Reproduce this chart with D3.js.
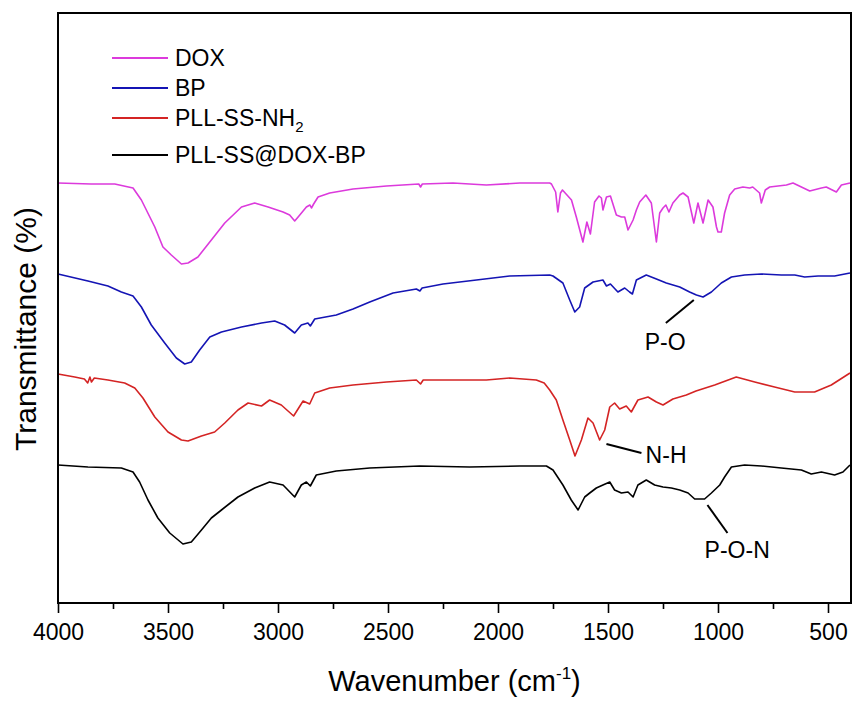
<!DOCTYPE html>
<html>
<head>
<meta charset="utf-8">
<script src="https://cdn.jsdelivr.net/npm/d3@7"></script>
<style>
  body { margin: 0; background: #fff; }
  svg { display: block; font-family: "Liberation Sans", Arial, sans-serif; }
  .tick text { font-size: 23px; fill: #000; }
  .tick line { stroke: #000; stroke-width: 1.6; }
  .label { font-size: 29px; fill: #000; }
  .legend text { font-size: 23px; fill: #000; }
  .note { font-size: 23px; fill: #000; }
</style>
</head>
<body>
<svg width="855" height="702"></svg>
<script>
// **** Data: [wavenumber (cm-1), transmittance (a.u.)] ****

var seriesNames = ['DOX', 'BP', 'PLL-SS-NH2', 'PLL-SS@DOX-BP'];
var seriesColors = ['#dc3adc', '#1414b4', '#d42424', '#000000'];

var doxData = [
  [4000,42.0],[3850,41.9],[3742,41.9],[3659,41.5],[3621,40.3],[3560,37.6],[3523,35.6],[3485,34.8],
  [3439,33.9],[3409,34.0],[3364,34.6],[3303,36.3],[3242,38.0],[3166,39.6],[3106,40.0],[3045,39.6],
  [2977,39.1],[2947,38.8],[2924,38.2],[2901,38.8],[2871,39.6],[2855,39.8],[2848,39.5],[2838,39.9],
  [2818,40.6],[2765,41.0],[2659,41.4],[2507,41.7],[2360,41.9],[2352,41.6],[2344,41.9],[2205,42.0],
  [2053,41.8],[1901,42.0],[1765,42.0],[1757,41.9],[1738,41.1],[1728,39.1],[1716,41.0],[1707,41.3],
  [1666,40.3],[1644,38.6],[1614,36.1],[1596,38.1],[1580,36.9],[1561,40.1],[1541,40.7],[1530,40.5],
  [1523,39.3],[1507,40.6],[1489,40.7],[1462,38.8],[1439,38.6],[1424,38.6],[1409,37.3],[1386,38.3],
  [1371,39.3],[1356,40.1],[1328,40.8],[1303,40.0],[1280,36.1],[1265,39.0],[1250,39.5],[1237,39.8],
  [1223,39.1],[1205,40.0],[1174,40.8],[1159,41.0],[1136,40.6],[1110,38.0],[1091,40.0],
  [1068,38.0],[1045,40.3],[1023,39.6],[1007,37.6],[1000,37.1],[985,37.1],[970,39.0],[947,40.8],
  [924,41.4],[887,41.6],[856,41.5],[842,41.6],[811,41.0],[803,40.0],[785,41.3],[765,41.6],
  [689,41.8],[659,42.0],[621,41.6],[583,41.2],[530,41.5],[508,41.6],[462,41.1],[439,41.8],[400,42.0]
];

var bpData = [
  [4000,32.9],[3864,32.2],[3773,31.7],[3712,31.1],[3659,30.7],[3621,29.6],[3576,27.8],[3515,26.0],
  [3462,24.5],[3424,23.9],[3394,24.1],[3356,25.3],[3310,26.6],[3257,27.1],[3166,27.6],[3075,28.0],
  [3015,28.2],[2970,27.8],[2924,27.0],[2894,27.8],[2864,28.0],[2853,27.7],[2833,28.4],[2735,28.8],
  [2659,29.4],[2583,30.1],[2477,31.0],[2371,31.4],[2355,31.2],[2345,31.5],[2250,31.9],[2098,32.3],
  [1947,32.7],[1765,32.8],[1750,32.7],[1705,32.0],[1674,30.3],[1651,29.1],[1629,29.6],[1606,31.5],
  [1568,32.1],[1523,32.3],[1507,31.7],[1489,31.9],[1455,31.1],[1424,31.5],[1402,31.1],[1389,30.9],
  [1371,32.3],[1326,32.8],[1280,32.4],[1235,32.0],[1174,31.6],[1129,31.1],[1098,30.8],[1068,30.6],
  [1030,31.1],[985,32.0],[939,32.6],[879,32.8],[803,32.9],[712,32.8],[651,32.8],[606,32.6],
  [545,32.7],[470,32.7],[400,33.0]
];

var pllData = [
  [4000,22.9],[3924,22.6],[3880,22.4],[3865,22.0],[3855,22.6],[3848,22.1],[3835,22.5],[3773,22.3],
  [3697,22.0],[3651,21.5],[3614,20.5],[3560,18.6],[3500,17.1],[3439,16.3],[3409,16.2],[3348,16.7],
  [3288,17.1],[3242,18.0],[3182,19.3],[3136,20.0],[3075,19.7],[3038,20.3],[2985,19.8],[2929,18.7],
  [2886,20.2],[2856,19.9],[2833,21.0],[2765,21.5],[2659,21.8],[2507,22.1],[2371,22.3],[2352,21.9],
  [2340,22.3],[2205,22.3],[2053,22.3],[1947,22.5],[1826,22.3],[1790,22.0],[1765,21.3],[1735,20.3],
  [1705,18.3],[1674,16.3],[1650,14.7],[1621,16.3],[1591,18.5],[1568,18.0],[1538,16.3],[1515,17.3],
  [1492,19.6],[1470,20.0],[1447,19.4],[1417,19.7],[1394,19.1],[1364,20.3],[1318,20.6],[1280,20.1],
  [1250,19.8],[1205,20.4],[1144,20.8],[1100,21.2],[1015,21.8],[917,22.6],[833,22.1],[743,21.6],
  [651,21.1],[561,21.1],[485,21.8],[400,23.0]
];

var hybridData = [
  [4000,13.8],[3864,13.6],[3712,13.5],[3659,13.1],[3629,12.1],[3591,10.3],[3546,8.5],[3492,7.0],
  [3432,5.9],[3394,6.1],[3348,7.3],[3303,8.5],[3257,9.3],[3182,10.6],[3106,11.5],[3038,12.1],
  [2977,11.8],[2924,10.6],[2894,11.8],[2871,12.1],[2853,11.7],[2826,12.8],[2735,13.2],[2583,13.5],
  [2356,13.7],[2129,13.6],[1901,13.7],[1780,13.7],[1750,13.3],[1705,11.8],[1667,10.3],[1636,9.3],
  [1606,10.6],[1583,11.0],[1553,11.5],[1523,11.8],[1492,12.1],[1470,11.3],[1439,11.0],[1409,11.1],
  [1386,10.6],[1364,11.8],[1326,12.3],[1288,11.8],[1250,11.6],[1212,11.5],[1174,11.3],[1136,11.0],
  [1106,10.4],[1061,10.4],[1030,11.0],[992,11.8],[970,12.6],[939,13.6],[879,13.8],[803,13.7],
  [712,13.5],[621,13.3],[576,12.9],[530,13.1],[470,12.8],[432,13.1],[400,13.8]
];

var majorTicks = [4000, 3500, 3000, 2500, 2000, 1500, 1000, 500];
var minorTicks = [3750, 3250, 2750, 2250, 1750, 1250, 750];

// peak labels: text, line start [wn, T], line end [wn, T], text anchor point [wn, T]
var peakNotes = [
  { text: 'P-O',   from: [1110, 30.3], to: [1237, 28.0], at: [1240, 25.3], anchor: 'middle' },
  { text: 'N-H',   from: [1507, 15.9], to: [1348, 15.0], at: [1329, 14.0], anchor: 'start' },
  { text: 'P-O-N', from: [1048, 9.8],  to: [957, 7.0],   at: [1061, 4.5],  anchor: 'start' }
];

var allSeries = [doxData, bpData, pllData, hybridData];

// **** Scales ****

var plotLeft = 58, plotRight = 851, plotTop = 13, plotBottom = 603;

var xScale = d3.scaleLinear().domain([4000, 400]).range([plotLeft, 850]);
var yScale = d3.scaleLinear().domain([0, 59]).range([plotBottom, plotTop]);

var svg = d3.select('svg');

// **** Axes ****

var xAxis = svg.append('g').attr('class', 'x axis')
    .attr('transform', 'translate(0,' + plotBottom + ')')
    .call(d3.axisBottom(xScale).tickValues(majorTicks).tickSize(10).tickPadding(11).tickFormat(d3.format('d')));
xAxis.select('.domain').remove();

var xMinor = svg.append('g').attr('class', 'x minor')
    .attr('transform', 'translate(0,' + plotBottom + ')')
    .call(d3.axisBottom(xScale).tickValues(minorTicks).tickSize(6).tickFormat(''));
xMinor.select('.domain').remove();

// **** Spectra ****

var line = d3.line()
    .x(function(d) { return xScale(d[0]); })
    .y(function(d) { return yScale(d[1]); });

svg.append('g').selectAll('path')
    .data(allSeries)
    .enter()
    .append('path')
    .attr('d', line)
    .attr('fill', 'none')
    .attr('stroke', function(d, i) { return seriesColors[i]; })
    .attr('stroke-width', 1.6)
    .attr('stroke-linejoin', 'round');

// frame
svg.append('rect')
    .attr('x', plotLeft).attr('y', plotTop)
    .attr('width', plotRight - plotLeft).attr('height', plotBottom - plotTop)
    .attr('fill', 'none').attr('stroke', '#000').attr('stroke-width', 2);

// **** Peak labels ****

var notes = svg.append('g');
notes.selectAll('line')
    .data(peakNotes)
    .enter()
    .append('line')
    .attr('x1', function(d) { return xScale(d.from[0]); })
    .attr('y1', function(d) { return yScale(d.from[1]); })
    .attr('x2', function(d) { return xScale(d.to[0]); })
    .attr('y2', function(d) { return yScale(d.to[1]); })
    .attr('stroke', '#000').attr('stroke-width', 2);

notes.selectAll('text')
    .data(peakNotes)
    .enter()
    .append('text')
    .attr('class', 'note')
    .attr('x', function(d) { return xScale(d.at[0]); })
    .attr('y', function(d) { return yScale(d.at[1]); })
    .attr('text-anchor', function(d) { return d.anchor; })
    .text(function(d) { return d.text; });

// **** Legend ****

var legendRows = [58, 88, 118, 155];
var legend = svg.append('g').attr('class', 'legend');

seriesNames.forEach(function(name, i) {
    var row = legend.append('g').attr('transform', 'translate(112,' + legendRows[i] + ')');
    row.append('line')
        .attr('x1', 0).attr('x2', 56)
        .attr('stroke', seriesColors[i]).attr('stroke-width', 2);
    var t = row.append('text').attr('x', 63).attr('y', 8);
    if (name === 'PLL-SS-NH2') {
        t.append('tspan').text('PLL-SS-NH');
        t.append('tspan').attr('font-size', '15px').attr('dy', 6).text('2');
    } else {
        t.text(name);
    }
});

// **** Axis titles ****

var xTitle = svg.append('text')
    .attr('class', 'label')
    .attr('x', (plotLeft + plotRight) / 2)
    .attr('y', 691)
    .attr('text-anchor', 'middle');
xTitle.append('tspan').text('Wavenumber (cm');
xTitle.append('tspan').attr('font-size', '17px').attr('dy', -12).text('-1');
xTitle.append('tspan').attr('dy', 12).text(')');

svg.append('text')
    .attr('class', 'label')
    .attr('transform', 'translate(36,329) rotate(-90)')
    .attr('text-anchor', 'middle')
    .style('font-size', '30px')
    .text('Transmittance (%)');
</script>
</body>
</html>
